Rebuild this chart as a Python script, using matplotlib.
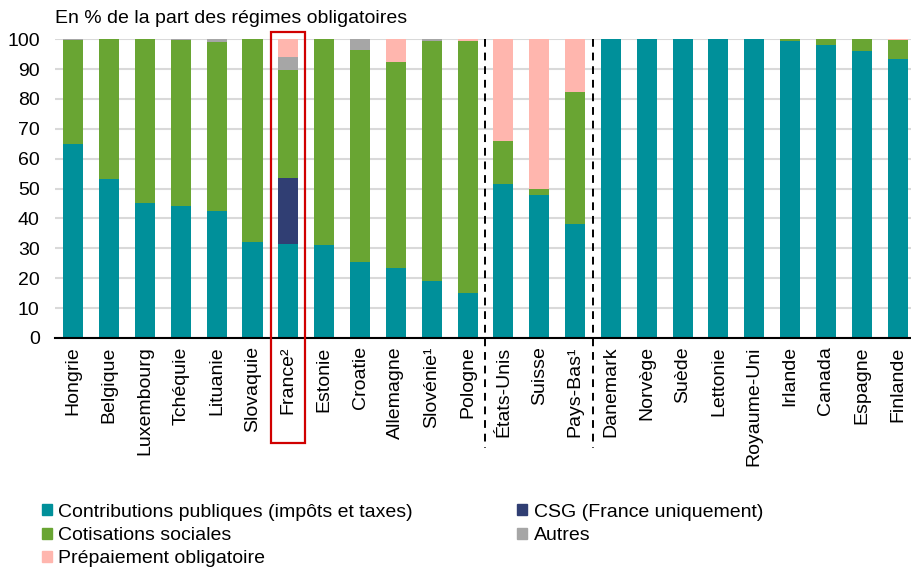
import matplotlib
matplotlib.use("Agg")
import matplotlib.pyplot as plt
from matplotlib.patches import Rectangle, Patch

plt.rcParams['font.family'] = ['Liberation Sans', 'DejaVu Sans']

### DATA ##########
pays = ['Hongrie', 'Belgique', 'Luxembourg', 'Tchéquie', 'Lituanie', 'Slovaquie',
        'France²', 'Estonie', 'Croatie', 'Allemagne', 'Slovénie¹', 'Pologne',
        'États-Unis', 'Suisse', 'Pays-Bas¹', 'Danemark', 'Norvège', 'Suède',
        'Lettonie', 'Royaume-Uni', 'Irlande', 'Canada', 'Espagne', 'Finlande']

contrib = [65.0, 53.1, 45.1, 44.3, 42.4, 32.1, 31.5, 31.0, 25.4, 23.3, 18.9, 15.0,
           51.4, 48.0, 38.2, 100, 100, 100, 100, 100, 99.3, 98.2, 96.1, 93.4]
csg = [0, 0, 0, 0, 0, 0, 22.2, 0, 0, 0, 0, 0,
       0, 0, 0, 0, 0, 0, 0, 0, 0, 0, 0, 0]
cotis = [34.6, 46.9, 54.9, 55.4, 56.7, 67.9, 35.9, 69.0, 71.1, 69.2, 80.5, 84.4,
         14.5, 2.0, 44.0, 0, 0, 0, 0, 0, 0.7, 1.8, 3.9, 6.4]
autres = [0.4, 0, 0, 0.3, 0.9, 0, 4.5, 0, 3.5, 0, 0.6, 0,
          0, 0, 0, 0, 0, 0, 0, 0, 0, 0, 0, 0]
prepaiement = [0, 0, 0, 0, 0, 0, 5.9, 0, 0, 7.5, 0, 0.6,
               34.1, 50.0, 17.8, 0, 0, 0, 0, 0, 0, 0, 0, 0.2]

series = [
    ('Contributions publiques (impôts et taxes)', contrib, '#00909A'),
    ('CSG (France uniquement)', csg, '#303E73'),
    ('Cotisations sociales', cotis, '#69A533'),
    ('Autres', autres, '#A6A6A6'),
    ('Prépaiement obligatoire', prepaiement, '#FFB6AE'),
]

### PLOT ##########
fig = plt.figure(figsize=(9.12, 5.68), dpi=100)
ax = fig.add_axes([0.0603, 0.405, 0.9397, 0.526])

x = range(len(pays))
bottom = [0] * len(pays)
for name, vals, col in series:
    ax.bar(x, vals, 0.56, bottom=bottom, color=col, zorder=2)
    bottom = [b + v for b, v in zip(bottom, vals)]

ax.set_xlim(-0.51, 23.4)
ax.set_ylim(0, 100)
ax.set_yticks(range(0, 101, 10))
ax.yaxis.grid(True, color='#D9D9D9', linewidth=1.5, zorder=0)
ax.set_axisbelow(True)
for s in ['top', 'right', 'left']:
    ax.spines[s].set_visible(False)
ax.spines['bottom'].set_linewidth(1.5)
ax.spines['bottom'].set_zorder(3)
ax.tick_params(axis='both', length=0, labelsize=14, colors='black')
ax.tick_params(axis='y', pad=11)
ax.tick_params(axis='x', pad=6)
ax.set_xticks(list(x))
ax.set_xticklabels(pays, rotation=90, va='top')

# separateurs
for xs in [11.5, 14.5]:
    ax.plot([xs, xs], [100, -36.7], color='black', linestyle=(0, (4, 3)),
            linewidth=1.4, clip_on=False, zorder=4)

# cadre France
ax.add_patch(Rectangle((5.52, -35.0), 0.95, 137.5, fill=False, edgecolor='#D00000',
                       linewidth=1.6, clip_on=False, zorder=5))

fig.text(0.0603, 0.968, 'En % de la part des régimes obligatoires', fontsize=14,
         ha='left', va='center')

# LEGENDE #################
order = [0, 2, 4, 1, 3]
handles = [Patch(color=series[i][2], label=series[i][0]) for i in order]
fig.legend(handles=handles, ncol=2, loc='upper left', bbox_to_anchor=(0.046, 0.113),
           frameon=False, fontsize=14, handlelength=0.5, handleheight=0.5,
           handletextpad=0.35, columnspacing=5.35, labelspacing=0.32,
           borderaxespad=0, borderpad=0)

fig.savefig('out.png', dpi=100)
